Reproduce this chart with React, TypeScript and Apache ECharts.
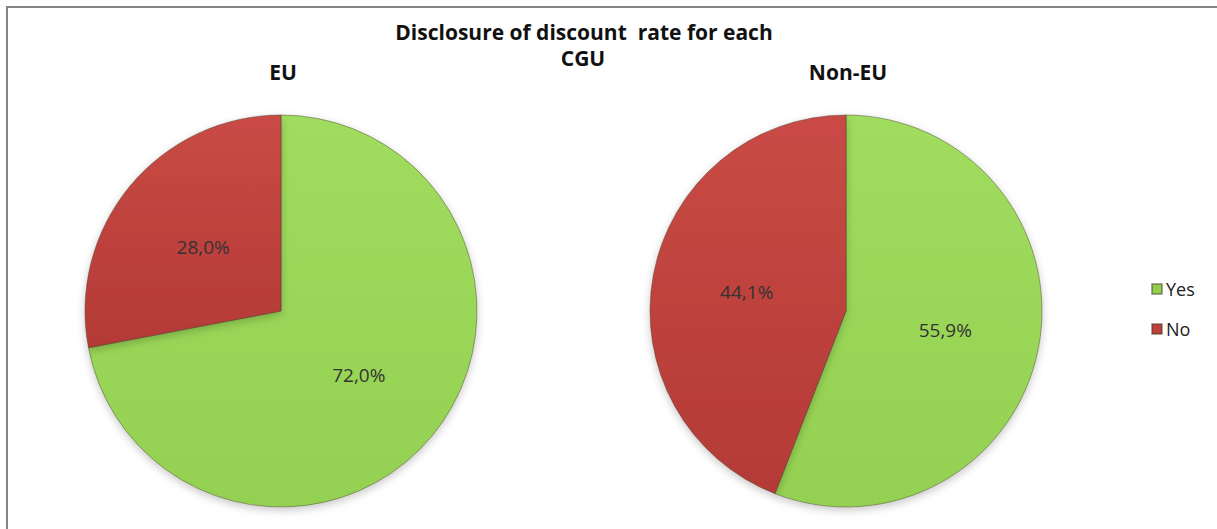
import React, { useEffect, useRef } from "react";
import * as echarts from "echarts";

const categories = ["Yes", "No"];
const euValues = [72.0, 28.0];
const nonEuValues = [55.9, 44.1];
const titleLines = ["Disclosure of discount  rate for each", "CGU"];
const pieTitles = ["EU", "Non-EU"];

const FONT = "'Open Sans', 'Noto Sans', sans-serif";

const greenFill = {
  type: "linear", x: 0, y: 0, x2: 0, y2: 1,
  colorStops: [
    { offset: 0, color: "#a0dc5e" },
    { offset: 1, color: "#94d152" },
  ],
};
const redFill = {
  type: "linear", x: 0, y: 0, x2: 0, y2: 1,
  colorStops: [
    { offset: 0, color: "#c94a45" },
    { offset: 1, color: "#b43a36" },
  ],
};
const colors = [greenFill, redFill];
const legendColors = ["#92cf50", "#c0403c"];

function fmt(p: any) {
  return p.value.toFixed(1).replace(".", ",") + "%";
}

function pieSeries(name: string, values: number[], center: [number, number]) {
  return {
    type: "pie",
    name,
    center,
    radius: 196,
    startAngle: 90,
    clockwise: true,
    avoidLabelOverlap: false,
    data: categories.map((c, i) => ({
      name: c,
      value: values[i],
      itemStyle: { color: colors[i] as any },
    })),
    itemStyle: {
      borderColor: "rgba(70,60,40,0.45)",
      borderWidth: 1,
      shadowBlur: 8,
      shadowColor: "rgba(0,0,0,0.22)",
      shadowOffsetY: 3,
    },
    label: {
      show: true,
      position: "inside",
      formatter: fmt,
      color: "#333",
      fontSize: 19,
      fontFamily: FONT,
    },
    labelLine: { show: false },
    emphasis: { disabled: true },
  };
}

export default function App() {
  const ref = useRef<HTMLDivElement>(null);
  useEffect(() => {
    if (!ref.current) return;
    const chart = echarts.init(ref.current, undefined, { renderer: "svg" });
    const boldText = (text: string, x: number, y: number) => ({
      type: "text",
      x,
      y,
      style: {
        text,
        textAlign: "center",
        textVerticalAlign: "middle",
        fill: "#111",
        font: `bold 21px ${FONT}`,
      },
    });
    chart.setOption({
      animation: false,
      backgroundColor: "#ffffff",
      color: legendColors,
      legend: {
        orient: "vertical",
        left: 1146,
        top: 275,
        itemWidth: 10,
        itemHeight: 10,
        itemGap: 22,
        icon: "rect",
        data: categories.map((c, i) => ({ name: c, itemStyle: { color: legendColors[i] } })),
        textStyle: { fontSize: 18, color: "#222", fontFamily: FONT, padding: [0, 0, 0, -1] },
        selectedMode: false,
      },
      graphic: [
        {
          type: "rect",
          shape: { x: 7, y: 7, width: 1230, height: 540 },
          style: { fill: "none", stroke: "#858585", lineWidth: 2 },
          silent: true,
        },
        boldText(titleLines[0], 584, 32),
        boldText(titleLines[1], 583, 58),
        boldText(pieTitles[0], 283, 72),
        boldText(pieTitles[1], 848, 72),
      ],
      series: [
        pieSeries(pieTitles[0], euValues, [281, 311]),
        pieSeries(pieTitles[1], nonEuValues, [846, 311]),
      ],
    });
    return () => chart.dispose();
  }, []);
  return (
    <div
      ref={ref}
      style={{ position: "absolute", left: 0, top: 0, width: 1217, height: 529 }}
    />
  );
}
